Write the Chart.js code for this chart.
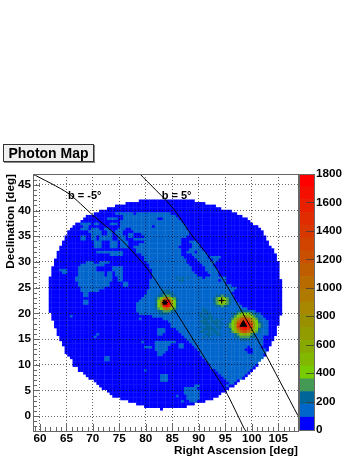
<!DOCTYPE html>
<html>
<head>
<meta charset="utf-8">
<title>Photon Map</title>
<script src="https://cdn.jsdelivr.net/npm/chart.js@4"></script>
<style>
  html, body { margin: 0; padding: 0; background: #fff; }
  #wrap { position: relative; width: 357px; height: 462px; overflow: hidden; }
  canvas { position: absolute; left: 0; top: 0; }
  #mapTitle {
    position: absolute; left: 3px; top: 144px; width: 89px; height: 16px;
    background: #f0f0f0; border: 1px solid #333; box-shadow: 1px 1px 0 #888;
    font: bold 14px "Liberation Sans", sans-serif; line-height: 16px; text-align: center; color: #000;
  }
</style>
</head>
<body>
<div id="wrap">
  <canvas id="mapChart" width="357" height="462"></canvas>
  <canvas id="scaleChart" width="357" height="462"></canvas>
  <div id="mapTitle">Photon Map</div>
</div>
<script>
// Axis ranges of the sky map (not a whole number of steps, or the ticks start at the minimum)
const RA_MIN = 58.7;
const RA_MAX = 108.72;
const DEC_MIN = -2.9;
const DEC_MAX = 47.12;
const BIN_DEG = 0.5;
const FIRST_ROW = 10;

// Colour band of each half degree bin, top row first.
// '.' = no exposure, 0-9 a-j = band number (every band is 90 photons)
const rows = [
".......... .......... .......... .......... 0000000000 0000000000 0",
".......... .......... .......... .....00000 0000000000 0000000000 00000",
".......... .......... .......... .000000000 0000000000 0000000000 000000000",
".......... .......... ........00 0000000000 0000000000 0000000000 0000000000 0",
".......... .......... .....00000 0000000000 0000000000 0000000000 0000000000 00000",
".......... .......... ...0000000 0111111101 1111111111 1100000000 0000000000 0000000",
".......... .......... 0000000000 0000111111 1111111111 1111000000 0000000000 000000000",
".......... .........0 0000000011 1100111111 1111111001 1111100000 0000000000 0000000000 0",
".......... ........00 0000000000 0001111111 1111111111 1111110000 0000000000 0000000000 00",
".......... ......0011 1101100001 1101111111 1111111111 1111111000 0000000000 0000000000 000",
".......... .....00001 1000000000 0001111111 1111101111 1111111100 0000000000 0000000000 00000",
".......... ....000011 1011100110 0011100111 1111111111 1111111100 0000000000 0000000000 000000",
".......... ...0000000 0111110011 0111000011 1111111111 1111111110 0000000000 0000000000 0000000",
".......... ...0000000 0011110011 0111001100 0111111111 1111111110 0000000000 0000000000 0000000",
".......... ..00000011 0011011111 0011101100 0011111111 1111111100 0000000000 0000000000 00000000",
".......... ..00000011 0011011111 0011100011 1111111111 1111110000 0000000000 0000000000 00000000",
".......... .000000000 0001110001 1101110000 0011111111 1111110001 1100000000 0000000000 000000000",
".......... .000000000 0001110001 1101110000 1111111111 1111110000 1110000000 0000000000 000000000",
".......... 0000000000 0001110001 1101110011 1111111111 1111100000 1110000000 0000000000 0000000000",
".......... 0000000000 0000000000 0000000001 1111111111 1111110001 1111000000 0000000000 0000000000 0",
".........0 0000000000 0000111111 1111000001 1111111111 1111110011 1011100000 0000000000 0000000000 0",
".........0 0000000000 0000000001 1111000000 0111111111 1111110000 1111110000 0000000000 0000000000 00",
".........0 0000000000 0000000000 0000000000 0011111111 1111111000 0111110111 1000000000 0000000000 00",
"........00 0000000000 0000000000 0000000000 0011111111 1111111100 0011111011 0000000000 0000000000 00",
"........00 0000000000 1110011110 0000000000 0001111111 1111111100 0001111110 0000000000 0000000000 000",
"........00 0000000011 1111111000 0000000000 0000111111 1111111110 0000111100 0000000000 0000000000 000",
".......000 0000000111 1111000000 1111000000 0000111111 1111111111 0000011110 0000000000 0000000000 000",
".......000 1110000111 1111000000 1111000000 0000011111 1111111111 0000011111 0000000000 0000000000 000",
".......000 0110000111 1111111011 0111000000 0000011111 1111111111 1000001111 0000000000 0000000000 000",
".......000 0000000111 1111111011 0111000000 0000011111 1111111111 1100000111 0000000000 0000000000 000",
"......0000 0000001111 1111111111 0011000000 0000011111 1111212121 1111011111 1110000000 0000000000 000",
"......0000 0000001111 1111111111 0011000000 0000111111 1111122111 1111111111 0110000000 0000000000 0000",
"......0000 0000000111 1111111110 0000110000 0000111111 1111111111 1111111111 1110000000 0000000000 0000",
"......0000 0000000111 1111111110 0000110000 0000111111 1111111111 1111111111 1111100000 0000000000 0000",
"......0000 0000000011 1111111000 0000000000 0000111111 1111111111 1111111111 1111111000 0000000000 0000",
"......0000 0000000011 1111100000 0000000000 0001111112 2211111111 1111111111 1111110000 0000000000 0000",
"......0000 0000000001 1000000000 0000000000 0001111122 2221111111 1111111111 1111100000 0000000000 0000",
"......0000 0000000001 1000000000 0000000000 0011111223 3322111111 1111111112 2322110000 0000000000 0000",
"......0000 0000000000 0000000000 0000000000 011111234 8b8432111 11 1111111123 4543210000 0000000000 0000",
"......0000 0000000001 1000000000 0000000000 111111247h jh74211111 1111111123 5753211000 0000000000 0000",
"......0000 0000000001 1000000000 0000000001 111111249j jj94211111 1111111123 4543211100 0000000000 0000",
"......0000 0000000000 0000000000 0000000001 111111247h jh74211111 1111111112 2322111110 0000000000 0000",
"......0000 0000000000 0000000000 0000000001 1111112348 b843211111 1111211111 1111111111 1000000000 0000",
"......0000 0000000000 0000000000 0000000001 1111111223 3322111111 1111221111 1111111222 2211000000 0000",
".......000 0000000000 0000000000 0000000000 1111111122 2111111111 1112122111 1111122344 4432210000 0000",
".......000 0000100000 0000000000 0000000000 0000011111 1111111111 1112212211 1111123468 8643211000 000",
".......000 0000000000 0000000000 0000000000 1000000001 1111111111 1111222212 121123 58ce ec85321100 000",
"........00 0000000000 0000000000 0000000000 0000000000 0111111111 1112221222 2111246bfh hfb6421110 000",
"........00 0000000000 0000000000 0000000000 0000000000 0011111111 1111222122 1212347fhj jhf7432110 000",
"........00 0000000000 0000000000 0000000000 0000000000 0011111111 1112122212 2112347fhj jhf7432110 00",
".........0 0000000000 0000000000 0000000000 0000000111 0000111111 1111222221 2111246bfh hfb6421110 00",
".........0 0000000000 0000000000 0000000000 0000000111 0000011111 1112212122 11112358bd db85321110 00",
".........0 0000000000 0000100000 0000000000 0000000110 0000001111 1111122212 2111112356 6532111110 00",
".......... 0000000000 0001000000 0000000000 0000000000 0000000111 1111212111 1111112233 3322111000 0",
".......... 0000000000 0000000000 0000000000 0000000000 0000000011 1111111111 1111111122 2211111000 0",
".......... .000000000 0000000000 0000000000 0100001111 1111000001 1111111111 1111111111 1111111000",
".......... .000000000 0000000000 0000000000 0000001111 1100011000 1111111111 1111111111 1111111000",
".......... ..00000000 0000000000 0000000000 0011101111 1000011000 0111111111 1111111111 101111000",
".......... ..00000000 0000000000 0000000000 0000001111 1000000000 0011111111 1111111111 000111110",
".......... ..00000000 0000000000 0000000000 0000000111 0000000000 0001111111 1111111111 10011111",
".......... ...0000000 0000000000 0000000000 0000000110 0000000000 0001111111 1111111111 11111110",
".......... ....000000 0000000110 0000000000 0000000000 0000000000 0000111111 1111111111 1111111",
".......... .....00000 0000000110 0000000000 0000000000 0000000000 0000011111 1111111111 111111",
".......... .....00000 0000000000 0000000000 0000000000 0000000000 0000001111 1111111111 11111",
".......... .....00000 0000000000 0000000000 0000000000 0000000000 0000000111 1111111111 11110",
".......... .......000 0000000000 0000000000 0000000000 0000000000 0000000111 1111111111 1110",
".......... .......000 0000000000 0000000000 0010000000 0000000000 0000000001 1111111111 110",
".......... .........0 0000000000 0000000000 0000000000 0000000000 0000000000 1111111111 10",
".......... .......... 0000000000 0000000000 0000000011 1000000000 0000000000 0111111111 0",
".......... .......... .000000000 0000000000 0000000011 1000000000 0000000000 0011111110",
".......... .......... ...0000000 0000000000 0000000011 1000000000 0000000000 00011110",
".......... .......... ....000000 0000000000 0000000000 0000000000 0000000000 0000110",
".......... .......... .....00000 0000000000 0000000000 0000000000 0110000000 000100",
".......... .......... ......0000 0000000000 0000000000 0000000111 1100000000 0000",
".......... .......... ........00 0000000000 0000000000 0000000111 1110000000 000",
".......... .......... .........0 0000000000 0000000000 0000000111 1110000000 0",
".......... .......... .......... 0000000000 0000000000 0000100011 1110000000",
".......... .......... .......... ...0000000 0000000000 0000000011 11100000",
".......... .......... .......... ......0000 0000000000 0000001001 11000",
".......... .......... .......... .........0 0000000000 0000000000 0",
".......... .......... .......... .......... ..00000000 00000000",
".......... .......... .......... .......... ........0."
];

// Colour of each 90 photon band, bottom of the colour bar first
const palette = [
  '#0000ff', '#0066cc', '#006699', '#449955', '#77cc00',
  '#82b800', '#88aa00', '#909c00', '#999000', '#a88800',
  '#b07a00', '#b86c00', '#bf5e00', '#c85000', '#d04400',
  '#d83800', '#e02c00', '#e82000', '#f41000', '#ff0000'
];
const BAND_WIDTH = 90;
const BAR_MAX = 1800;

// Galactic latitude lines
const bMinus5 = [
  { x: 58.7, y: 47.1 }, { x: 65.3, y: 43.4 }, { x: 70.0, y: 39.1 }, { x: 75.1, y: 34.6 }, { x: 80.2, y: 28.8 },
  { x: 84.6, y: 22.0 }, { x: 91.8, y: 10.2 }, { x: 95.0, y: 5.0 }, { x: 98.6, y: -2.5 }, { x: 98.9, y: -2.9 }
];
const bPlus5 = [
  { x: 78.9, y: 47.1 }, { x: 85.1, y: 40.5 }, { x: 88.4, y: 35.6 }, { x: 92.1, y: 30.7 },
  { x: 97.2, y: 22.0 }, { x: 102.2, y: 12.8 }, { x: 108.7, y: 0.1 }
];

// Source markers
const starSource = [{ x: 83.6, y: 22.1 }];
const plusSource = [{ x: 94.3, y: 22.5 }];
const triangleSource = [{ x: 98.4, y: 17.85 }];

// Text on the map
const mapLabels = [
  { text: 'b = -5°', x: 65.3, y: 42.9 },
  { text: 'b = 5°', x: 83.0, y: 42.9 }
];

const FONT_FAMILY = '"Liberation Sans", sans-serif';

function buildCells() {
  const cells = [];
  rows.forEach((row, r) => {
    const bins = row.replace(/ /g, '');
    for (let c = 0; c < bins.length; c++) {
      if (bins[c] === '.') continue;
      cells.push({
        x: RA_MIN + (c + 0.5) * BIN_DEG,
        y: DEC_MAX - (FIRST_ROW + r + 0.5) * BIN_DEG,
        band: parseInt(bins[c], 20)
      });
    }
  });
  return cells;
}

// ROOT style frame and ticks that point into the plot
const frameTicksPlugin = {
  id: 'frameTicks',
  afterDraw(chart) {
    const { ctx, chartArea: a, scales } = chart;
    ctx.save();
    ctx.strokeStyle = '#666';
    ctx.lineWidth = 1;
    if (chart.canvas.id === 'mapChart') {
      ctx.beginPath();
      scales.x.ticks.forEach(t => {
        const px = Math.round(scales.x.getPixelForValue(t.value)) + 0.5;
        ctx.moveTo(px, a.bottom);
        ctx.lineTo(px, a.bottom - (t.value % 5 === 0 ? 7 : 4));
      });
      scales.y.ticks.forEach(t => {
        const py = Math.round(scales.y.getPixelForValue(t.value)) + 0.5;
        ctx.moveTo(a.left, py);
        ctx.lineTo(a.left + (t.value % 5 === 0 ? 7 : 4), py);
      });
      ctx.stroke();
    } else {
      ctx.strokeStyle = 'rgba(60,60,60,0.8)';
      ctx.beginPath();
      scales.y.ticks.forEach(t => {
        const py = Math.round(scales.y.getPixelForValue(t.value)) + 0.5;
        ctx.moveTo(a.right, py);
        ctx.lineTo(a.right - 8, py);
      });
      ctx.stroke();
      ctx.strokeStyle = '#666';
    }
    ctx.strokeRect(a.left + 0.5, a.top + 0.5, a.right - a.left, a.bottom - a.top);
    ctx.restore();
  }
};

const mapLabelPlugin = {
  id: 'mapLabels',
  afterDatasetsDraw(chart) {
    const { ctx, scales } = chart;
    ctx.save();
    ctx.font = 'bold 11px ' + FONT_FAMILY;
    ctx.fillStyle = '#000';
    ctx.textBaseline = 'middle';
    mapLabels.forEach(l => {
      ctx.fillText(l.text, scales.x.getPixelForValue(l.x), scales.y.getPixelForValue(l.y));
    });
    ctx.restore();
  }
};

function gridOptions() {
  return {
    z: 1,
    drawTicks: false,
    color: ctx => (ctx.tick && ctx.tick.value % 5 === 0 ? 'rgba(0,0,0,0.6)' : 'rgba(0,0,0,0)'),
    lineWidth: 1
  };
}

function lineSet(data) {
  return { data: data, showLine: true, borderColor: '#000', borderWidth: 1, pointRadius: 0, fill: false, tension: 0.25 };
}

function markerSet(data, style, radius, fill) {
  return {
    data: data, showLine: false, pointStyle: style, pointRadius: radius,
    pointBackgroundColor: fill, pointBorderColor: '#000', pointBorderWidth: 1.2
  };
}

function initMapChart() {
  const canvas = document.getElementById('mapChart');
  new Chart(canvas.getContext('2d'), {
    type: 'scatter',
    data: {
      datasets: [
        markerSet(starSource, 'star', 3, '#000'),
        markerSet(plusSource, 'cross', 3, '#000'),
        markerSet(triangleSource, 'triangle', 3.5, '#000'),
        lineSet(bMinus5),
        lineSet(bPlus5),
        {
          data: buildCells(),
          showLine: false,
          pointStyle: 'rect',
          pointRadius: 2.1,
          pointBorderWidth: 0,
          pointBackgroundColor: ctx => palette[ctx.raw ? ctx.raw.band : 0]
        }
      ]
    },
    options: {
      responsive: false,
      animation: false,
      events: [],
      layout: { padding: { left: 0, top: 174, right: 59, bottom: 0 } },
      plugins: { legend: { display: false }, tooltip: { enabled: false }, title: { display: false } },
      scales: {
        x: {
          type: 'linear', min: RA_MIN, max: RA_MAX,
          afterFit: s => { s.height = 31; },
          grid: gridOptions(),
          border: { display: false, dash: [1, 2] },
          ticks: {
            stepSize: 1, includeBounds: false, autoSkip: false, maxRotation: 0, padding: 1, color: '#000',
            font: { family: FONT_FAMILY, weight: 'bold', size: 11.7 },
            callback: v => (v % 5 === 0 ? String(v) : '')
          },
          title: {
            display: true, text: 'Right Ascension [deg]', align: 'end', color: '#000', padding: { top: 0, bottom: 4 },
            font: { family: FONT_FAMILY, weight: 'bold', size: 11.7 }
          }
        },
        y: {
          type: 'linear', min: DEC_MIN, max: DEC_MAX,
          afterFit: s => { s.width = 33; },
          grid: gridOptions(),
          border: { display: false, dash: [1, 2] },
          ticks: {
            stepSize: 1, includeBounds: false, autoSkip: false, padding: 2, color: '#000',
            font: { family: FONT_FAMILY, weight: 'bold', size: 11.7 },
            callback: v => (v % 5 === 0 ? String(v) : '')
          },
          title: {
            display: true, text: 'Declination [deg]', align: 'end', color: '#000', padding: { top: 4, bottom: 0 },
            font: { family: FONT_FAMILY, weight: 'bold', size: 11.7 }
          }
        }
      }
    },
    plugins: [frameTicksPlugin, mapLabelPlugin]
  });
}

function initScaleChart() {
  const canvas = document.getElementById('scaleChart');
  new Chart(canvas.getContext('2d'), {
    type: 'bar',
    data: {
      labels: ['photons'],
      datasets: palette.map(color => ({
        data: [BAND_WIDTH], backgroundColor: color, borderWidth: 0,
        barPercentage: 1, categoryPercentage: 1, stack: 'bar'
      }))
    },
    options: {
      responsive: false,
      animation: false,
      events: [],
      layout: { padding: { left: 299, top: 174, right: 0, bottom: 32 } },
      plugins: { legend: { display: false }, tooltip: { enabled: false } },
      scales: {
        x: { stacked: true, display: false },
        y: {
          stacked: true, position: 'right', min: 0, max: BAR_MAX,
          afterFit: s => { s.width = 43; },
          grid: { display: false, drawTicks: false },
          border: { display: false },
          ticks: {
            stepSize: 200, autoSkip: false, padding: 2, color: '#000',
            font: { family: FONT_FAMILY, weight: 'bold', size: 11.7 },
            callback: v => String(v)
          }
        }
      }
    },
    plugins: [frameTicksPlugin]
  });
}

document.addEventListener('DOMContentLoaded', function() {
  initMapChart();
  initScaleChart();
});
</script>
</body>
</html>
